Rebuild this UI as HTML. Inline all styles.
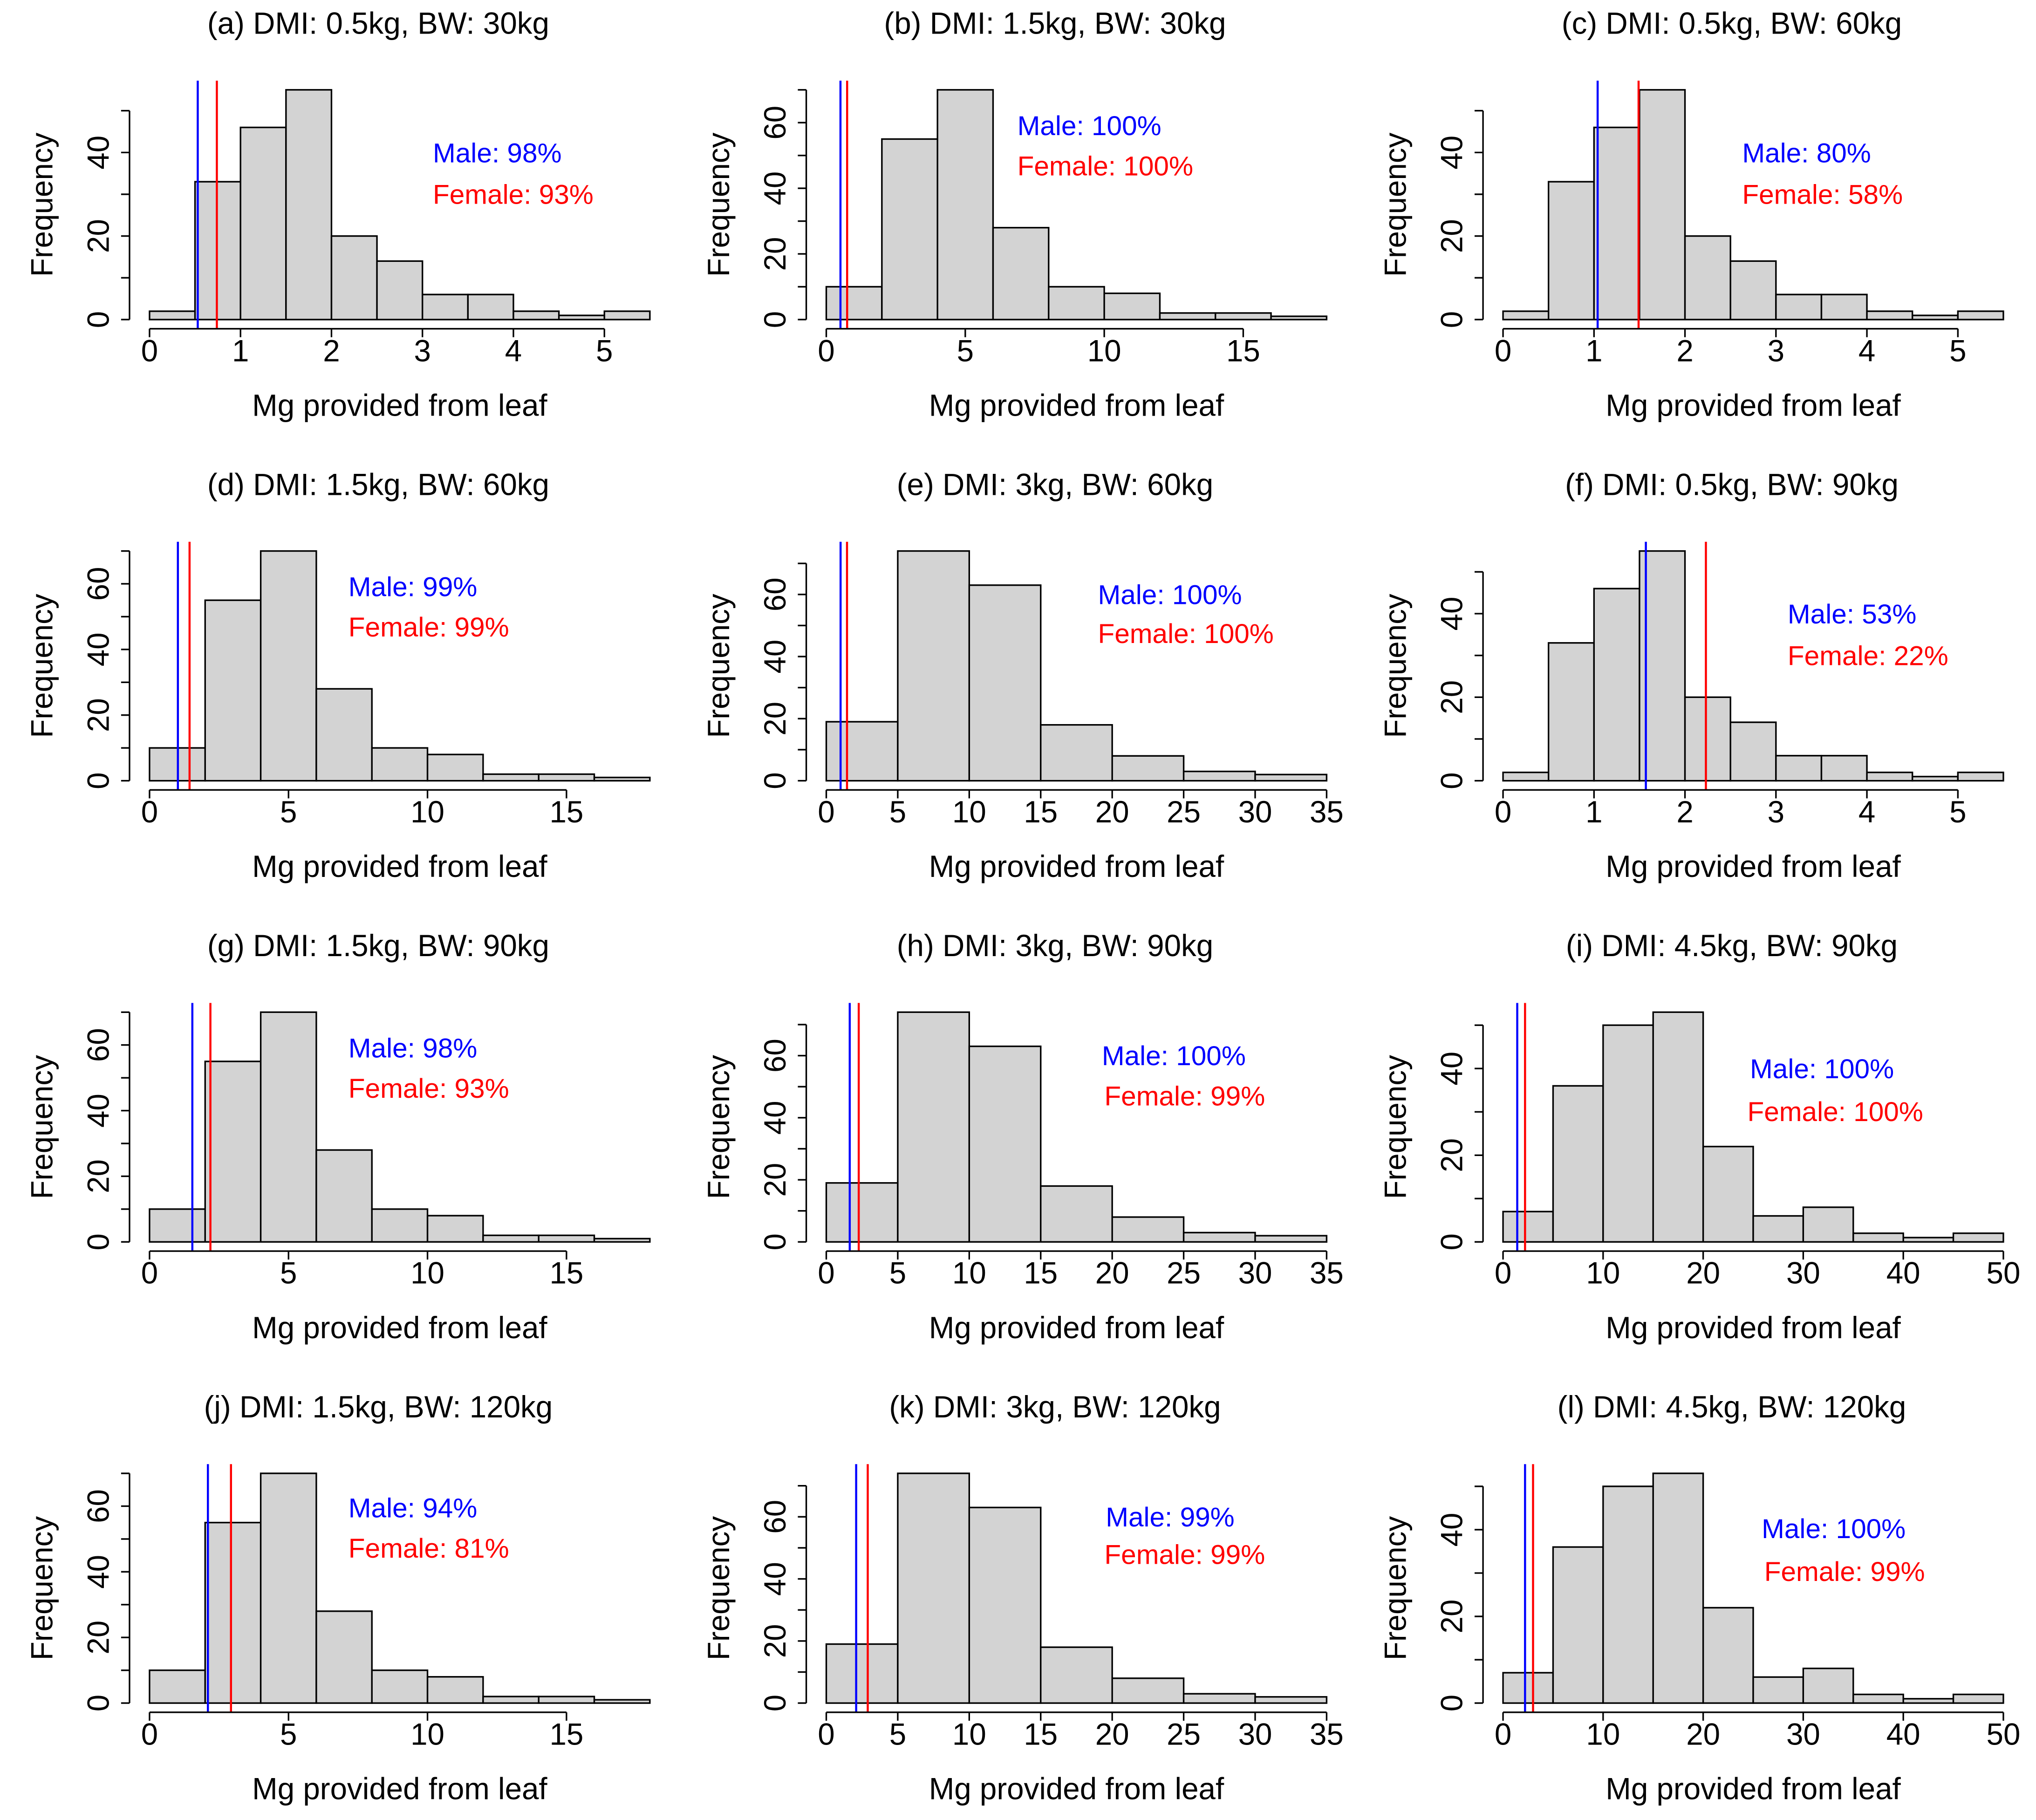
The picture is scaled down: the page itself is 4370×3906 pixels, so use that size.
<!DOCTYPE html>
<html><head><meta charset="utf-8"><style>
html,body{margin:0;padding:0;background:#fff}
svg{display:block}
text{font-family:"Liberation Sans",Arial,sans-serif;font-size:23.5px;fill:#000}
text.ann{font-size:21px}
</style></head><body>
<svg id="fig" xmlns="http://www.w3.org/2000/svg" width="4370" height="3906" viewBox="0 0 1567 1401"></svg>
<script>
// Histogram datasets (bin start 0)
const countsSmall = [2,33,46,55,20,14,6,6,2,1,2];      // width 0.5
const countsMid = [10,55,70,28,10,8,2,2,1];             // width 2
const countsLarge = [19,74,63,18,8,3,2];                // width 5
const countsXL = [7,36,50,53,22,6,8,2,1,2];             // width 5
const binWidths = {small:0.5, mid:2, large:5, xl:5};
const xTicks = {small:[0,1,2,3,4,5], mid:[0,5,10,15], large:[0,5,10,15,20,25,30,35], xl:[0,10,20,30,40,50]};
const countsBy = {small:countsSmall, mid:countsMid, large:countsLarge, xl:countsXL};
// Panels
const titles = ["(a) DMI: 0.5kg, BW: 30kg","(b) DMI: 1.5kg, BW: 30kg","(c) DMI: 0.5kg, BW: 60kg",
 "(d) DMI: 1.5kg, BW: 60kg","(e) DMI: 3kg, BW: 60kg","(f) DMI: 0.5kg, BW: 90kg",
 "(g) DMI: 1.5kg, BW: 90kg","(h) DMI: 3kg, BW: 90kg","(i) DMI: 4.5kg, BW: 90kg",
 "(j) DMI: 1.5kg, BW: 120kg","(k) DMI: 3kg, BW: 120kg","(l) DMI: 4.5kg, BW: 120kg"];
const datasetKeys = ["small","mid","small","mid","large","small","mid","large","xl","mid","large","xl"];
const maleLine = [0.53,0.51,1.04,1.02,1.0,1.57,1.54,1.64,1.42,2.1,2.09,2.2];
const femaleLine = [0.74,0.75,1.49,1.44,1.45,2.23,2.19,2.27,2.2,2.93,2.9,3.0];
const malePct = [98,100,80,99,100,53,98,100,100,94,99,100];
const femalePct = [93,100,58,99,100,22,93,99,100,81,99,99];
// text layout (panel-local px)
const maleXY = [[333,118],[262,97],[299,118],[268,97],[324,103],[334,118],[268,97],[327,103],[305,113],[268,96],[330,103],[314,112]];
const femXY = [[333,150],[262,128],[299,150],[268,128],[324,133],[334,150],[268,128],[329,134],[303,146],[268,127],[329,132],[316,145]];

const svg = document.getElementById('fig');
const NS = "http://www.w3.org/2000/svg";
function mk(tag, attrs, parent){const e=document.createElementNS(NS,tag);for(const k in attrs)e.setAttribute(k,attrs[k]);(parent||svg).appendChild(e);return e;}

function prettyMax(m){return Math.floor(m/10)*10;}

titles.forEach((title,i)=>{
  const col=i%3,row=Math.floor(i/3);
  const ox=col*521, oy=row*355;
  const key=datasetKeys[i], counts=countsBy[key], bw=binWidths[key];
  const xmax=counts.length*bw, ymax=Math.max(...counts);
  const PW=416, PH=191;
  const L=99.5+ox, base=246+oy;
  const xs=PW/(1.08*xmax), ys=PH/(1.08*ymax);
  const X=v=>L+(v+0.04*xmax)*xs;
  const Y=v=>base-v*ys;
  const top=Y(1.04*ymax), bottom=Y(-0.04*ymax);
  const g=mk('g',{});
  
  
  const t=mk('text',{x:291+ox,y:18+oy,'text-anchor':'middle','dominant-baseline':'central'},g);
  t.textContent=title;
  
  
  counts.forEach((c,j)=>{
    const r=mk('rect',{x:X(j*bw),y:Y(c),width:X((j+1)*bw)-X(j*bw),height:Y(0)-Y(c),fill:'#d3d3d3',stroke:'#000','stroke-width':1.2},g);
    
    
  });
  const bl=mk('line',{x1:X(maleLine[i]),x2:X(maleLine[i]),y1:top,y2:bottom,stroke:'#0000ff','stroke-width':1.6},g);
  
  
  const rl=mk('line',{x1:X(femaleLine[i]),x2:X(femaleLine[i]),y1:top,y2:bottom,stroke:'#ff0000','stroke-width':1.6},g);
  
  
  // y axis
  const ytop=prettyMax(ymax);
  const ya=mk('line',{x1:L,x2:L,y1:Y(0),y2:Y(ytop),stroke:'#000','stroke-width':1.2},g);
  
  
  for(let v=0;v<=ytop;v+=10){
    mk('line',{x1:L-6.5,x2:L,y1:Y(v),y2:Y(v),stroke:'#000','stroke-width':1.2},g);
    if(v%20===0){
      const yl=mk('text',{x:L-24,y:Y(v),'text-anchor':'middle','dominant-baseline':'central',transform:`rotate(-90 ${L-24} ${Y(v)})`},g);
      yl.textContent=v;
      
      
    }
  }
  const yt=mk('text',{x:32+ox,y:(top+bottom)/2,'text-anchor':'middle','dominant-baseline':'central',transform:`rotate(-90 ${32+ox} ${(top+bottom)/2})`},g);
  yt.textContent='Frequency';
  
  
  // x axis
  const tk=xTicks[key];
  const xa=mk('line',{x1:X(tk[0]),x2:X(tk[tk.length-1]),y1:bottom,y2:bottom,stroke:'#000','stroke-width':1.2},g);
  
  
  tk.forEach(v=>{
    mk('line',{x1:X(v),x2:X(v),y1:bottom,y2:bottom+6.5,stroke:'#000','stroke-width':1.2},g);
    const xl=mk('text',{x:X(v),y:base+24,'text-anchor':'middle','dominant-baseline':'central'},g);
    xl.textContent=v;
    
    
  });
  const xt=mk('text',{x:L+PW/2,y:base+66,'text-anchor':'middle','dominant-baseline':'central'},g);
  xt.textContent='Mg provided from leaf';
  
  
  const mt=mk('text',{class:'ann',x:maleXY[i][0]+ox,y:maleXY[i][1]+oy,'dominant-baseline':'central',style:'fill:#0000ff'},g);
  mt.textContent='Male: '+malePct[i]+'%';
  
  
  const ft=mk('text',{class:'ann',x:femXY[i][0]+ox,y:femXY[i][1]+oy,'dominant-baseline':'central',style:'fill:#ff0000'},g);
  ft.textContent='Female: '+femalePct[i]+'%';
  
  
});
</script>
</body></html>
